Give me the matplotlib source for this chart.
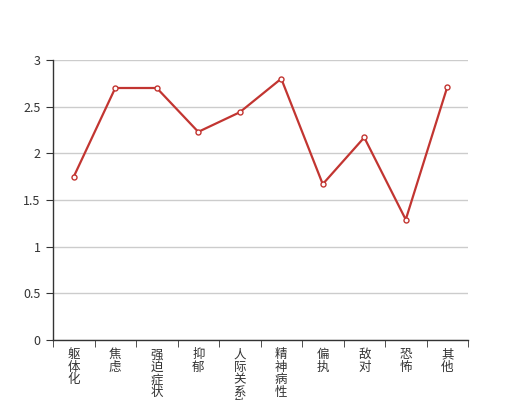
import matplotlib.pyplot as plt
import numpy as np

plt.rcParams['font.family'] = ['Noto Sans CJK SC', 'DejaVu Sans']

categories = ['躯体化', '焦虑', '强迫症状', '抑郁', '人际关系敏感', '精神病性', '偏执', '敌对', '恐怖', '其他']
values = [1.75, 2.70, 2.70, 2.23, 2.44, 2.80, 1.67, 2.17, 1.29, 2.71]
yticks = [0, 0.5, 1, 1.5, 2, 2.5, 3]
ytick_labels = ['0', '0.5', '1', '1.5', '2', '2.5', '3']

fig = plt.figure(figsize=(5.2, 4), dpi=100)
ax = fig.add_axes([53 / 520, 60 / 400, 415 / 520, 280 / 400])

x = np.arange(len(categories))
ax.plot(x, values, color='#c23531', linewidth=1.6, marker='o', markersize=3.6,
        markerfacecolor='white', markeredgecolor='#c23531', markeredgewidth=1, zorder=3)

ax.set_xlim(-0.5, len(categories) - 0.5)
ax.set_ylim(0, 3)
ax.set_yticks(yticks)
ax.set_yticklabels(ytick_labels)

# vertical stacked labels, ticks between categories
ax.set_xticks(x)
ax.set_xticklabels(['\n'.join(c) for c in categories], va='top', linespacing=0.95)
ax.set_xticks(np.arange(-0.5, len(categories)), minor=True)
ax.tick_params(axis='x', which='major', length=0, pad=6, labelsize=9, labelcolor='#333333')
ax.tick_params(axis='x', which='minor', length=5, color='#333333', direction='out')
ax.tick_params(axis='y', length=5, color='#333333', labelsize=9, labelcolor='#333333', pad=4)

ax.grid(axis='y', color='#cccccc', linewidth=1)
ax.set_axisbelow(True)
for s in ['top', 'right']:
    ax.spines[s].set_visible(False)
for s in ['left', 'bottom']:
    ax.spines[s].set_color('#333333')
    ax.spines[s].set_linewidth(1)

fig.savefig('out.png', dpi=100)
